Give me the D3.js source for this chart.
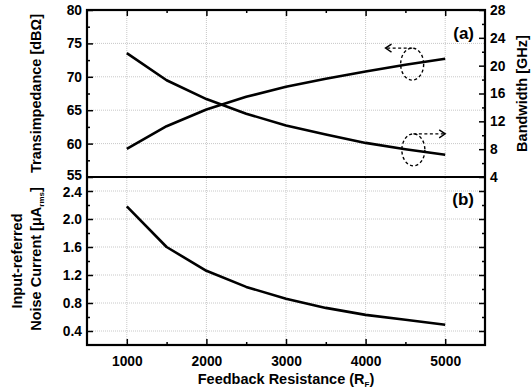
<!DOCTYPE html>
<html>
<head>
<meta charset="utf-8">
<script src="https://cdn.jsdelivr.net/npm/d3@7"></script>
<style>
  body { margin: 0; background: #fff; }
  text { font-family: "Liberation Sans", Arial, sans-serif; font-weight: bold; }
</style>
</head>
<body>
<div id="chart"></div>
<script>
"use strict";

// Data
const resistance = [1000, 1500, 2000, 2500, 3000, 3500, 4000, 4500, 5000];
const transimpedance = [59.2, 62.6, 65.1, 67.0, 68.5, 69.7, 70.8, 71.8, 72.7];   // dBΩ, left axis
const bandwidth = [21.8, 17.9, 15.2, 13.1, 11.4, 10.1, 8.9, 8.0, 7.2];           // GHz, right axis
const noiseCurrent = [2.18, 1.6, 1.26, 1.03, 0.86, 0.73, 0.63, 0.56, 0.49];     // μA rms

const xTicks = [1000, 2000, 3000, 4000, 5000];
const tiTicks = [55, 60, 65, 70, 75, 80];
const bwTicks = [4, 8, 12, 16, 20, 24, 28];
const noiseTicks = [0.4, 0.8, 1.2, 1.6, 2.0, 2.4];

const W = 531, H = 389;
const plotLeft = 87, plotRight = 485;
const plotTop = 10, plotMid = 177, plotBottom = 345;

const svg = d3.select("#chart").append("svg")
    .attr("width", W)
    .attr("height", H);

// Scales
const x = d3.scaleLinear().domain([500, 5500]).range([plotLeft, plotRight]);
const yTi = d3.scaleLinear().domain([55, 80]).range([plotMid, plotTop]);
const yBw = d3.scaleLinear().domain([4, 28]).range([plotMid, plotTop]);
const yNoise = d3.scaleLinear().domain([0.2, 2.6]).range([plotBottom, plotMid]);

const minorX = [1500, 2500, 3500, 4500];
const tiMinor = [57.5, 62.5, 67.5, 72.5, 77.5];
const bwMinor = [6, 10, 14, 18, 22, 26];
const noiseMinor = [0.6, 1.0, 1.4, 1.8, 2.2];

// Grid
const grid = svg.append("g")
    .attr("stroke", "#c8c8c8")
    .attr("stroke-width", 1)
    .attr("stroke-dasharray", "1,1");

xTicks.forEach(v => {
    grid.append("line")
        .attr("x1", x(v)).attr("x2", x(v))
        .attr("y1", plotTop).attr("y2", plotBottom);
});
tiTicks.filter(v => v > 55 && v < 80).forEach(v => {
    grid.append("line")
        .attr("x1", plotLeft).attr("x2", plotRight)
        .attr("y1", yTi(v)).attr("y2", yTi(v));
});
noiseTicks.forEach(v => {
    grid.append("line")
        .attr("x1", plotLeft).attr("x2", plotRight)
        .attr("y1", yNoise(v)).attr("y2", yNoise(v));
});

// inward ticks, major + minor
function axisPair(axisFn, scale, majors, minors, transform, fmt) {
    const gMinor = svg.append("g")
        .attr("transform", transform)
        .call(axisFn(scale).tickValues(minors).tickSize(-3).tickFormat(""));
    gMinor.select(".domain").remove();
    gMinor.selectAll("line").attr("stroke-width", 1.5);

    const g = svg.append("g")
        .attr("transform", transform)
        .call(axisFn(scale).tickValues(majors).tickSizeInner(-6).tickSizeOuter(0)
            .tickFormat(fmt || ""));
    g.select(".domain").remove();
    g.selectAll("line").attr("stroke-width", 1.5);
    g.selectAll("text")
        .attr("font-size", "13.8px")
        .attr("font-family", "Liberation Sans, Arial, sans-serif")
        .attr("font-weight", "bold")
        .attr("fill", "#000");
    return g;
}

// top panel
const tiAxis = axisPair(d3.axisLeft, yTi, tiTicks, tiMinor, `translate(${plotLeft},0)`, d3.format("d"));
tiAxis.selectAll("text").attr("x", -5).attr("dy", d => d === 55 ? "0.2em" : "0.32em");
axisPair(d3.axisRight, yBw, bwTicks, bwMinor, `translate(${plotRight},0)`, d3.format("d"))
    .selectAll("text").attr("x", 5);
axisPair(d3.axisTop, x, xTicks, minorX, `translate(0,${plotTop})`, null);

// bottom panel
const noiseAxis = axisPair(d3.axisLeft, yNoise, noiseTicks, noiseMinor, `translate(${plotLeft},0)`, d3.format(".1f"));
noiseAxis.selectAll("text").attr("x", -5).attr("dy", d => d === 2.4 ? "0.42em" : "0.32em");
axisPair(d3.axisRight, yNoise, noiseTicks, noiseMinor, `translate(${plotRight},0)`, null);
axisPair(d3.axisBottom, x, xTicks, minorX, `translate(0,${plotBottom})`, d3.format("d"))
    .selectAll("text").attr("y", 11);

// Frame
const frame = svg.append("g").attr("stroke", "#000").attr("stroke-width", 2.2).attr("fill", "none");
frame.append("rect")
    .attr("x", plotLeft).attr("y", plotTop)
    .attr("width", plotRight - plotLeft).attr("height", plotBottom - plotTop);
frame.append("line")
    .attr("x1", plotLeft).attr("x2", plotRight)
    .attr("y1", plotMid).attr("y2", plotMid);

// Curves
const lineTi = d3.line().x((d, i) => x(resistance[i])).y(d => yTi(d));
const lineBw = d3.line().x((d, i) => x(resistance[i])).y(d => yBw(d));
const lineNoise = d3.line().x((d, i) => x(resistance[i])).y(d => yNoise(d));

[[transimpedance, lineTi], [bandwidth, lineBw], [noiseCurrent, lineNoise]].forEach(([data, gen]) => {
    svg.append("path")
        .datum(data)
        .attr("d", gen)
        .attr("fill", "none")
        .attr("stroke", "#000")
        .attr("stroke-width", 2.6)
        .attr("stroke-linejoin", "round");
});

// Ellipse + arrow annotations
const ann = svg.append("g")
    .attr("fill", "none")
    .attr("stroke", "#000")
    .attr("stroke-width", 1.4);

function marker(cx, cy, toX) {
    const dir = toX < cx ? 1 : -1;
    ann.append("ellipse")
        .attr("cx", cx).attr("cy", cy)
        .attr("rx", 11.5).attr("ry", 16)
        .attr("stroke-dasharray", "3,2.5");
    ann.append("line")
        .attr("x1", cx).attr("x2", toX)
        .attr("y1", cy - 16).attr("y2", cy - 16)
        .attr("stroke-dasharray", "3,2.5");
    ann.append("path")
        .attr("d", `M${toX + dir * 6},${cy - 20} L${toX},${cy - 16} L${toX + dir * 6},${cy - 12}`);
}

// transimpedance → left axis, bandwidth → right axis
marker(x(4585), yTi(71.9), x(4250));
marker(x(4600), yBw(7.9), x(5000));

// Panel labels
svg.append("text")
    .attr("x", 474).attr("y", 39)
    .attr("text-anchor", "end")
    .attr("font-size", "17px")
    .text("(a)");
svg.append("text")
    .attr("x", 474).attr("y", 205)
    .attr("text-anchor", "end")
    .attr("font-size", "17px")
    .text("(b)");

// Axis titles
svg.append("text")
    .attr("transform", `translate(41,${(plotTop + plotMid) / 2}) rotate(-90)`)
    .attr("text-anchor", "middle")
    .attr("font-size", "14.5px")
    .text("Transimpedance [dBΩ]");

const noiseTitle = svg.append("text")
    .attr("transform", `translate(41,${(plotMid + plotBottom) / 2 - 2}) rotate(-90)`)
    .attr("text-anchor", "middle")
    .attr("font-size", "14.5px");
noiseTitle.append("tspan").text("Noise Current [μA");
noiseTitle.append("tspan").attr("font-size", "8px").attr("dy", 3).text("rms");
noiseTitle.append("tspan").attr("dy", -3).text("]");

svg.append("text")
    .attr("transform", `translate(22,${(plotMid + plotBottom) / 2}) rotate(-90)`)
    .attr("text-anchor", "middle")
    .attr("font-size", "14.5px")
    .text("Input-referred");

svg.append("text")
    .attr("transform", `translate(527,${(plotTop + plotMid) / 2}) rotate(-90)`)
    .attr("text-anchor", "middle")
    .attr("font-size", "14.5px")
    .text("Bandwidth [GHz]");

const xTitle = svg.append("text")
    .attr("x", (plotLeft + plotRight) / 2).attr("y", 384)
    .attr("text-anchor", "middle")
    .attr("font-size", "14.5px");
xTitle.append("tspan").text("Feedback Resistance (R");
xTitle.append("tspan").attr("font-size", "8px").attr("dy", 3).text("F");
xTitle.append("tspan").attr("dy", -3).text(")");
</script>
</body>
</html>
